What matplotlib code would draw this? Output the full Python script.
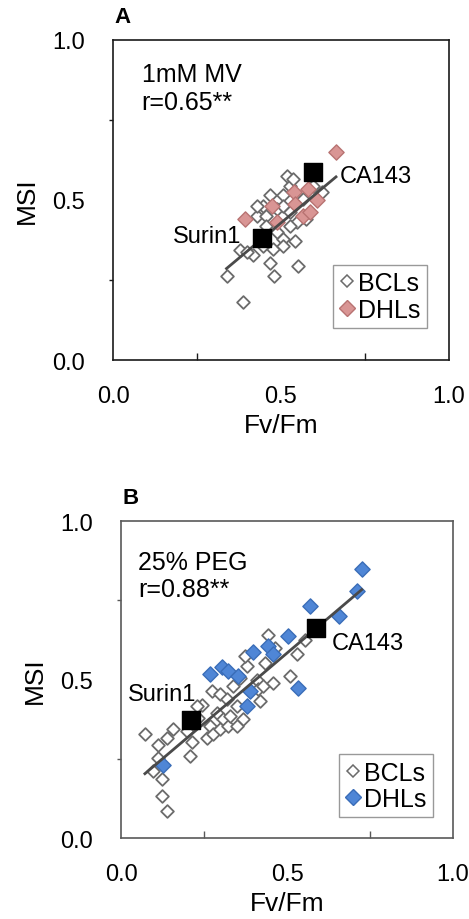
import matplotlib
matplotlib.use('Agg')
import matplotlib.pyplot as plt
from matplotlib.lines import Line2D
import numpy as np

plt.rcParams['font.family'] = ['Liberation Sans', 'DejaVu Sans']

# panel A: 1mM MV
a_bcl_x = [0.338, 0.388, 0.418, 0.378, 0.467, 0.480, 0.552, 0.519, 0.527, 0.507,
           0.447, 0.428, 0.457, 0.487, 0.507, 0.527, 0.547, 0.457, 0.487, 0.507,
           0.542, 0.477, 0.507, 0.447, 0.398, 0.621, 0.596, 0.566, 0.576, 0.527,
           0.428, 0.467, 0.537]
a_bcl_y = [0.261, 0.180, 0.328, 0.345, 0.303, 0.261, 0.293, 0.574, 0.545, 0.514,
           0.482, 0.451, 0.451, 0.472, 0.482, 0.461, 0.430, 0.420, 0.399, 0.378,
           0.373, 0.347, 0.357, 0.357, 0.336, 0.524, 0.545, 0.503, 0.441, 0.420,
           0.482, 0.514, 0.566]
a_dhl_x = [0.664, 0.539, 0.472, 0.393, 0.542, 0.581, 0.606, 0.566, 0.586, 0.487]
a_dhl_y = [0.651, 0.524, 0.482, 0.441, 0.488, 0.534, 0.501, 0.451, 0.461, 0.430]
a_checks = {'Surin1': (0.445, 0.380), 'CA143': (0.596, 0.586)}
a_trend = (0.878, -0.011)   # slope, intercept as drawn

# panel B: 25% PEG
b_bcl_x = [0.072, 0.112, 0.138, 0.158, 0.112, 0.097, 0.123, 0.123, 0.140, 0.208,
           0.213, 0.198, 0.243, 0.233, 0.258, 0.268, 0.273, 0.298, 0.288, 0.278,
           0.308, 0.298, 0.323, 0.328, 0.318, 0.348, 0.338, 0.358, 0.379, 0.373,
           0.409, 0.414, 0.419, 0.368, 0.348, 0.429, 0.434, 0.444, 0.464, 0.459,
           0.529, 0.509, 0.554, 0.590, 0.228]
b_bcl_y = [0.327, 0.292, 0.317, 0.345, 0.251, 0.212, 0.186, 0.133, 0.086, 0.259,
           0.303, 0.337, 0.421, 0.380, 0.317, 0.353, 0.463, 0.455, 0.395, 0.327,
           0.374, 0.343, 0.353, 0.385, 0.437, 0.416, 0.479, 0.505, 0.542, 0.573,
           0.500, 0.469, 0.432, 0.374, 0.353, 0.479, 0.552, 0.642, 0.600, 0.490,
           0.579, 0.510, 0.626, 0.657, 0.416]
b_dhl_x = [0.725, 0.710, 0.569, 0.658, 0.504, 0.444, 0.397, 0.459, 0.303, 0.323,
           0.268, 0.353, 0.389, 0.534, 0.379, 0.127]
b_dhl_y = [0.848, 0.778, 0.733, 0.699, 0.638, 0.605, 0.587, 0.579, 0.540, 0.526,
           0.516, 0.510, 0.463, 0.474, 0.416, 0.230]
b_checks = {'Surin1': (0.210, 0.372), 'CA143': (0.587, 0.662)}
b_trend = (0.889, 0.139)

fig = plt.figure(figsize=(4.69, 9.2), dpi=100)
axA = fig.add_axes([0.241, 0.6076, 0.716, 0.348])
axB = fig.add_axes([0.258, 0.088, 0.708, 0.3446])


def panel(ax, bx, by, dx, dy, checks, trend, dcol, dedge, spine, letter, cond, r,
          txt_xy, lab_pos, leg_loc):
    ax.scatter(bx, by, marker='D', s=42, facecolors='white', edgecolors='#6b6b6b',
               linewidths=1.3, zorder=3)
    ax.scatter(dx, dy, marker='D', s=60, facecolors=dcol, edgecolors=dedge,
               linewidths=1.0, zorder=3)
    allx = np.array(bx + dx)
    xs = np.array([allx.min(), allx.max()])
    ax.plot(xs, trend[0] * xs + trend[1], color='#4a4a4a', lw=2, zorder=4)
    for name, (x, y) in checks.items():
        ax.scatter([x], [y], marker='s', s=180, color='black', zorder=5)
        tx, ty, ha = lab_pos[name]
        ax.text(tx, ty, name, ha=ha, va='center', fontsize=17, zorder=6)

    ax.set_xlim(0, 1)
    ax.set_ylim(0, 1)
    ax.set_xticks([0, 0.5, 1])
    ax.set_yticks([0, 0.5, 1])
    ax.set_xticklabels(['0.0', '0.5', '1.0'])
    ax.set_yticklabels(['0.0', '0.5', '1.0'])
    ax.tick_params(which='major', length=0, labelsize=17)
    ax.tick_params(axis='x', which='major', pad=18)
    ax.tick_params(axis='y', which='major', pad=20)
    ax.set_xticks([0.25, 0.5, 0.75], minor=True)
    ax.set_yticks([0.25, 0.5, 0.75], minor=True)
    ax.tick_params(axis='x', which='minor', direction='in', length=5, width=1, color=spine)
    ax.tick_params(axis='y', which='minor', direction='out', length=3, width=1, color=spine)
    for s in ax.spines.values():
        s.set_color(spine)
        s.set_linewidth(1.2)

    ax.set_xlabel('Fv/Fm', fontsize=19, labelpad=4)
    ax.set_ylabel('MSI', fontsize=19, labelpad=10)
    ax.text(txt_xy[0], txt_xy[1], cond + '\n' + r, transform=ax.transAxes,
            ha='left', va='top', fontsize=18, linespacing=1.2)
    ax.text(0.005, 1.04, letter, transform=ax.transAxes, ha='left', va='bottom',
            fontsize=16, fontweight='bold')

    handles = [Line2D([], [], ls='none', marker='D', ms=6, mfc='white', mec='#6b6b6b', mew=1.1),
               Line2D([], [], ls='none', marker='D', ms=8, mfc=dcol, mec=dedge, mew=1.0)]
    leg = ax.legend(handles, ['BCLs', 'DHLs'], loc='lower left', bbox_to_anchor=leg_loc,
                    fontsize=18, frameon=True, fancybox=False, handlelength=0.6,
                    handletextpad=0.15, borderpad=0.25, labelspacing=0.1,
                    borderaxespad=0)
    leg.get_frame().set_edgecolor('#808080')
    leg.get_frame().set_linewidth(1)


panel(axA, a_bcl_x, a_bcl_y, a_dhl_x, a_dhl_y, a_checks, a_trend,
      '#d99594', '#b87372', '#1a1a1a', 'A', '1mM MV', 'r=0.65**', (0.085, 0.93),
      {'Surin1': (0.383, 0.388, 'right'), 'CA143': (0.676, 0.576, 'left')},
      (0.655, 0.1))
panel(axB, b_bcl_x, b_bcl_y, b_dhl_x, b_dhl_y, b_checks, b_trend,
      '#4f86d6', '#3a6db8', '#595959', 'B', '25% PEG', 'r=0.88**', (0.052, 0.91),
      {'Surin1': (0.022, 0.453, 'left'), 'CA143': (0.635, 0.615, 'left')},
      (0.658, 0.065))

fig.savefig('out.png', dpi=100)
